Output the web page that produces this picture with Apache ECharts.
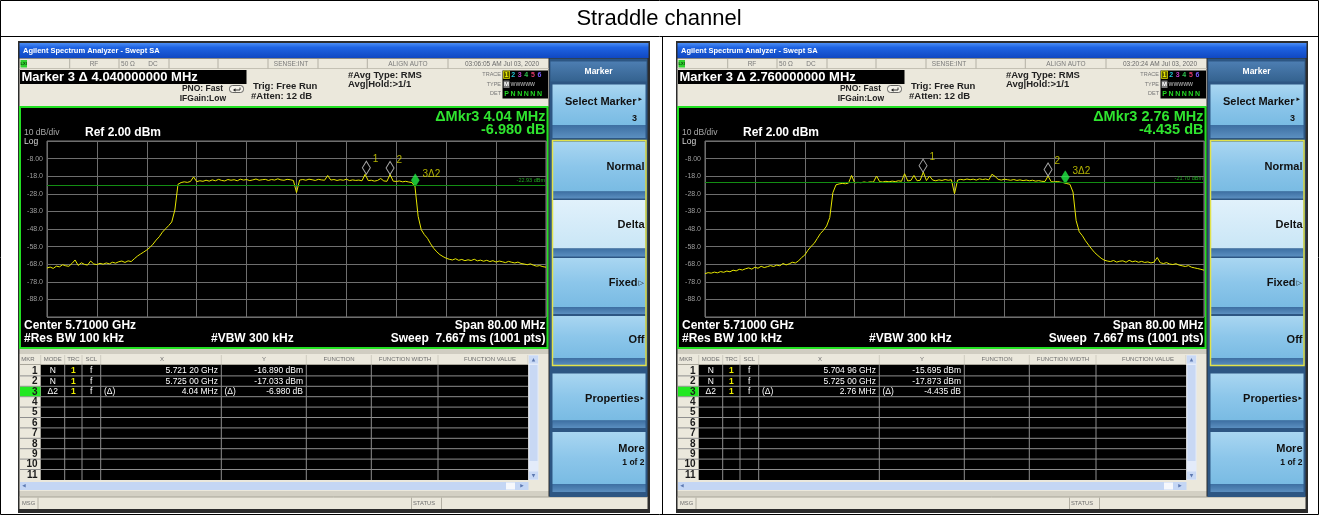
<!DOCTYPE html>
<html>
<head>
<meta charset="utf-8">
<title>Straddle channel</title>
<script src="https://cdn.jsdelivr.net/npm/echarts@6/dist/echarts.min.js"></script>
<style>
  html, body { margin: 0; padding: 0; background: #ffffff; }
  #chart { width: 1319px; height: 515px; }
</style>
</head>
<body>
<div id="chart"></div>
<script>
// ---- Sweep settings shared by both captures ----
const centerGHz = 5.71;
const spanMHz = 80;
const sweepStepMHz = 0.5;
const refLevelDbm = 2;
const yTickLabels = ['-8.00', '-18.0', '-28.0', '-38.0', '-48.0', '-58.0', '-68.0', '-78.0', '-88.0'];
const traceNames = ['1', '2', '3', '4', '5', '6'];

// ---- Capture A: trace 1 (dBm), one value every 0.5 MHz from the start frequency ----
const traceA = [
  -70.2, -69.6, -70.4, -69.1, -69.5, -68.3, -68.9, -69.2, -67.6, -65.6,
  -68.7, -67.2, -68.1, -68.5, -66.2, -67.9, -68.2, -67.5, -68.0, -67.3,
  -67.8, -66.9, -67.4, -66.6, -66.2, -67.0, -66.1, -66.5, -64.9, -63.4,
  -62.2, -61.1, -59.9, -58.5, -56.6, -54.3, -52.4, -49.8, -47.9, -46.1,
  -44.0, -37.2, -22.6, -21.6, -21.2, -21.5, -21.0, -18.4, -21.1, -20.6,
  -20.9, -20.3, -20.8, -20.1, -20.6, -19.8, -20.4, -20.7, -19.9, -20.3,
  -20.0, -20.6, -19.7, -20.2, -19.9, -20.5, -20.1, -19.6, -20.3, -20.0,
  -19.8, -20.4, -19.9, -20.2, -19.5, -20.1, -20.3, -19.8, -20.0, -20.4,
  -27.3, -20.2, -19.9, -20.3, -19.7, -20.0, -20.4, -19.8, -20.1, -20.3,
  -17.6, -20.2, -19.9, -20.4, -20.0, -20.3, -19.7, -20.5, -20.1, -20.4,
  -20.2, -20.6, -16.9, -20.5, -20.3, -20.8, -20.4, -19.3, -20.7, -20.9,
  -17.0, -20.8, -21.0, -20.7, -21.2, -20.9, -21.3, -21.6, -24.0, -40.8,
  -48.4, -51.2, -53.3, -56.4, -59.0, -61.0, -62.6, -63.7, -64.6, -65.2,
  -65.6, -64.9, -65.8, -65.3, -66.0, -65.5, -65.9, -65.2, -66.1, -65.7,
  -66.3, -65.8, -66.5, -66.0, -66.8, -66.2, -66.6, -67.1, -66.4, -66.9,
  -67.3, -66.8, -67.6, -67.9, -68.3, -67.8, -68.6, -69.1, -68.8, -69.4,
  -69.7
];
const markerFreqA = [5.72120, 5.72500];
const markerLevelA = [-16.890, -17.033];
const deltaMhzA = 4.04;
const deltaDbA = -6.980;
const displayLineA = -22.93;
const clockA = '03:06:05 AM Jul 03, 2020';

// ---- Capture B ----
const traceB = [
  -73.4, -72.8, -73.1, -72.5, -72.9, -72.2, -72.6, -71.9, -72.3, -71.4,
  -71.8, -70.9, -71.3, -70.6, -70.1, -70.8, -69.7, -70.3, -69.2, -69.9,
  -69.4, -68.8, -69.3, -68.5, -68.9, -67.6, -68.4, -67.8, -66.9, -67.3,
  -66.1, -64.2, -62.8, -60.1, -57.9, -56.2, -53.4, -50.6, -48.7, -46.3,
  -41.5, -27.4, -22.9, -22.4, -22.1, -22.3, -21.9, -17.6, -21.8, -21.5,
  -21.7, -21.3, -21.6, -21.2, -21.4, -17.9, -21.1, -21.3, -20.9, -21.2,
  -20.8, -21.1, -20.6, -20.9, -16.6, -20.7, -20.4, -17.6, -20.6, -20.3,
  -15.7, -20.5, -17.9, -20.2, -20.6, -20.1, -20.4, -19.9, -20.3, -20.0,
  -27.9, -20.2, -19.8, -20.1, -19.6, -20.0, -19.7, -20.2, -19.5, -19.9,
  -19.6, -20.1, -16.9, -18.1, -19.8, -20.2, -19.7, -20.0, -20.3, -19.9,
  -20.4, -20.1, -20.5, -20.2, -20.6, -20.3, -20.8, -20.5, -20.9, -21.0,
  -17.9, -21.1, -21.3, -21.0, -21.4, -21.7, -22.2, -22.6, -27.0, -43.2,
  -49.6, -51.8, -54.7, -57.1, -59.4, -61.5, -63.1, -64.6, -65.7, -66.2,
  -66.5, -65.9, -66.8, -66.3, -66.1, -66.9, -65.8, -66.6, -66.2, -66.9,
  -66.4, -67.0, -66.7, -67.3, -66.8, -64.2, -67.2, -67.6, -67.1, -67.9,
  -68.2, -67.7, -68.5, -68.9, -69.3, -68.8, -69.7, -70.1, -70.5, -70.9,
  -71.4
];
const markerFreqB = [5.70496, 5.72500];
const markerLevelB = [-15.695, -17.873];
const deltaMhzB = 2.76;
const deltaDbB = -4.435;
const displayLineB = -21.70;
const clockB = '03:20:24 AM Jul 03, 2020';

const capA = { trace: traceA, markerFreq: markerFreqA, markerLevel: markerLevelA, deltaMhz: deltaMhzA, deltaDb: deltaDbA, displayLine: displayLineA, clock: clockA };
const capB = { trace: traceB, markerFreq: markerFreqB, markerLevel: markerLevelB, deltaMhz: deltaMhzB, deltaDb: deltaDbB, displayLine: displayLineB, clock: clockB };

// ---- Drawing helpers for the instrument window chrome ----
const FONT = '"Liberation Sans", Arial, Helvetica, sans-serif';
const G = [];
function rect(x, y, w, h, fill, extra) {
  G.push(Object.assign({ type: 'rect', z: -10, silent: true, shape: { x: x, y: y, width: w, height: h }, style: { fill: fill } }, extra || {}));
}
function frame(x, y, w, h, stroke, lw, fill) {
  G.push({ type: 'rect', z: -10, silent: true, shape: { x: x, y: y, width: w, height: h }, style: { fill: fill || 'none', stroke: stroke, lineWidth: lw || 1 } });
}
function line(x1, y1, x2, y2, stroke, lw) {
  G.push({ type: 'line', z: -10, silent: true, shape: { x1: x1, y1: y1, x2: x2, y2: y2 }, style: { stroke: stroke, lineWidth: lw || 1 } });
}
function text(x, y, t, size, fill, o) {
  o = o || {};
  G.push({ type: 'text', z: -9, silent: true, x: x, y: y,
    style: { text: t, fill: fill, fontSize: size, fontFamily: o.family || FONT, fontWeight: o.bold ? 'bold' : 'normal',
      align: o.align || 'left', verticalAlign: 'middle' } });
}
function vgrad(stops) {
  return { type: 'linear', x: 0, y: 0, x2: 0, y2: 1, colorStops: stops.map(function (c) { return { offset: c[0], color: c[1] }; }) };
}
function fmtGHz(f) { const s = f.toFixed(5); return s.slice(0, 5) + ' ' + s.slice(5) + ' GHz'; }

const BEIGE = '#ebe8dc';

function panel(ox, cap) {
  const X = function (v) { return ox + v; };
  // window frame
  rect(X(18), 41, 632, 472, '#2c2c2c');
  // title bar
  rect(X(19.5), 43, 629, 15, vgrad([[0, '#4c8ef4'], [0.3, '#1f63e2'], [1, '#1048c2']]));
  text(X(23), 50.5, 'Agilent Spectrum Analyzer - Swept SA', 7.5, '#ffffff', { bold: true });

  // status + settings area
  rect(X(19.5), 58.5, 529, 48, BEIGE);
  line(X(19.5), 68.5, X(548.5), 68.5, '#c4c1b4');
  [69.7, 119, 169, 218, 268, 318, 367.3, 448].forEach(function (sx) { line(X(sx), 59, X(sx), 68.5, '#b3b0a4'); });
  rect(X(20.5), 60, 6.5, 7.5, '#2ed12e');
  text(X(23.7), 63.8, 'LXI', 4, '#0b3a0b', { align: 'center', bold: true });
  text(X(94), 64, 'RF', 6.5, '#7a7a7a', { align: 'center' });
  text(X(128), 64, '50 Ω', 6.5, '#7a7a7a', { align: 'center' });
  text(X(153), 64, 'DC', 6.5, '#7a7a7a', { align: 'center' });
  text(X(291), 64, 'SENSE:INT', 6.5, '#7a7a7a', { align: 'center' });
  text(X(408), 64, 'ALIGN AUTO', 6.5, '#7a7a7a', { align: 'center' });
  text(X(539), 64, cap.clock, 6.5, '#6a6a6a', { align: 'right' });

  rect(X(20), 70, 226.5, 14, '#000000');
  text(X(21.5), 77.5, 'Marker 3 Δ ' + cap.deltaMhz.toFixed(9) + ' MHz', 13, '#ffffff', { bold: true });
  text(X(223), 89, 'PNO: Fast', 8.5, '#222222', { bold: true, align: 'right' });
  text(X(226), 98.5, 'IFGain:Low', 8.5, '#222222', { bold: true, align: 'right' });
  G.push({ type: 'rect', z: -10, silent: true, shape: { x: X(229.5), y: 85.5, width: 14, height: 7, r: 3 }, style: { fill: '#f4f2ea', stroke: '#444444', lineWidth: 0.8 } });
  G.push({ type: 'polyline', z: -9, silent: true, shape: { points: [[X(240), 87.5], [X(240), 90], [X(234), 90]] }, style: { fill: 'none', stroke: '#222222', lineWidth: 0.9 } });
  G.push({ type: 'polygon', z: -9, silent: true, shape: { points: [[X(233), 90], [X(235.5), 88.3], [X(235.5), 91.7]] }, style: { fill: '#222222' } });
  text(X(253), 86, 'Trig: Free Run', 9.5, '#222222', { bold: true });
  text(X(251), 96, '#Atten: 12 dB', 9.5, '#222222', { bold: true });
  text(X(348), 75, '#Avg Type: RMS', 9.5, '#222222', { bold: true });
  text(X(348), 84.5, 'Avg|Hold:>1/1', 9.5, '#222222', { bold: true });
  text(X(501), 74.5, 'TRACE', 5.5, '#777777', { align: 'right' });
  text(X(501), 84, 'TYPE', 5.5, '#777777', { align: 'right' });
  text(X(501), 93.5, 'DET', 5.5, '#777777', { align: 'right' });
  rect(X(502.5), 70.5, 45.5, 28, '#000000');
  frame(X(503.5), 71, 6, 7.5, '#d8d800', 0.8, '#5a5a00');
  const traceColors = ['#f0f000', '#22c5d5', '#c43fcc', '#2fc24f', '#e23a6a', '#7a5cff'];
  traceNames.forEach(function (n, k) { text(X(506.5 + 6.6 * k), 74.9, n, 7, traceColors[k], { bold: true, align: 'center' }); });
  rect(X(503.5), 80.5, 6, 7.5, '#7a7a7a');
  text(X(506.5), 84.4, 'M', 6, '#ffffff', { bold: true, align: 'center' });
  text(X(510.5), 84.4, 'WWWWW', 5.2, '#9a9a9a', { bold: true });
  text(X(506.5), 93.8, 'P', 7, '#22d822', { bold: true, align: 'center' });
  ['N', 'N', 'N', 'N', 'N'].forEach(function (n, k) { text(X(513.1 + 6.6 * k), 93.8, n, 7, '#22d822', { bold: true, align: 'center' }); });

  // graticule window
  frame(X(20), 107, 527.5, 241, '#22e022', 2, '#000000');
  text(X(24), 133, '10 dB/div', 8.5, '#a8a8a8');
  text(X(24), 141.5, 'Log', 8.5, '#d6d6d6');
  text(X(85), 133, 'Ref ' + refLevelDbm.toFixed(2) + ' dBm', 12, '#ffffff', { bold: true });
  text(X(545.5), 117, 'ΔMkr3 ' + cap.deltaMhz.toFixed(2) + ' MHz', 14.5, '#2fe42f', { bold: true, align: 'right' });
  text(X(545.5), 129.5, cap.deltaDb.toFixed(3) + ' dB', 14.5, '#2fe42f', { bold: true, align: 'right' });
  text(X(24), 325.5, 'Center ' + centerGHz.toFixed(5) + ' GHz', 12, '#ffffff', { bold: true });
  text(X(24), 338.5, '#Res BW 100 kHz', 12, '#ffffff', { bold: true });
  text(X(211), 338.5, '#VBW 300 kHz', 12, '#ffffff', { bold: true });
  text(X(545.5), 325.5, 'Span ' + spanMHz.toFixed(2) + ' MHz', 12, '#ffffff', { bold: true, align: 'right' });
  text(X(545.5), 338.5, 'Sweep  7.667 ms (1001 pts)', 12, '#ffffff', { bold: true, align: 'right' });

  // marker table
  rect(X(19.5), 349, 529, 5, '#d0cdc1');
  rect(X(19.5), 354, 529, 137, BEIGE);
  const hdr = [['MKR', 28], ['MODE', 52.7], ['TRC', 73.3], ['SCL', 91.3], ['X', 162], ['Y', 264], ['FUNCTION', 339], ['FUNCTION WIDTH', 405], ['FUNCTION VALUE', 490]];
  hdr.forEach(function (h) { text(X(h[1]), 359.5, h[0], 6, '#6e6e6e', { align: 'center' }); });
  const cols = [40.7, 64.7, 82, 100.7, 221.3, 306.3, 371.3, 438, 528];
  cols.forEach(function (cx) { line(X(cx), 355, X(cx), 364.5, '#cfccc0'); });
  line(X(20), 364.5, X(528), 364.5, '#a9a69a');
  rect(X(40.7), 365, 487.5, 115, '#000000');
  const rowH = 10.4, row0 = 365.5;
  for (let k = 1; k <= 10; k++) { line(X(20), row0 + k * rowH, X(528), row0 + k * rowH, '#8e8e8e'); }
  cols.slice(1, 8).forEach(function (cx) { line(X(cx), 365, X(cx), 480, '#8e8e8e'); });
  rect(X(20), row0 + 2 * rowH + 0.5, 20.5, rowH - 1, '#22e822');
  for (let k = 0; k < 11; k++) { text(X(37.5), row0 + rowH * (k + 0.5) + 0.3, String(k + 1), 10, '#1a1a1a', { bold: true, align: 'right' }); }
  const rows = [
    ['N', fmtGHz(cap.markerFreq[0]), cap.markerLevel[0].toFixed(3) + ' dBm', false],
    ['N', fmtGHz(cap.markerFreq[1]), cap.markerLevel[1].toFixed(3) + ' dBm', false],
    ['Δ2', cap.deltaMhz.toFixed(2) + ' MHz', cap.deltaDb.toFixed(3) + ' dB', true]
  ];
  rows.forEach(function (r, k) {
    const cy = row0 + rowH * (k + 0.5) + 0.3;
    text(X(52.7), cy, r[0], 8.5, '#ffffff', { align: 'center' });
    text(X(73.3), cy, '1', 8.5, '#ecec00', { align: 'center', bold: true });
    text(X(91.3), cy, 'f', 8.5, '#ffffff', { align: 'center' });
    if (r[3]) { text(X(104), cy, '(Δ)', 8.5, '#ffffff'); text(X(224.5), cy, '(Δ)', 8.5, '#ffffff'); }
    text(X(218), cy, r[1], 8.5, '#ffffff', { align: 'right' });
    text(X(303), cy, r[2], 8.5, '#ffffff', { align: 'right' });
  });
  // vertical scroll bar
  rect(X(528.5), 355, 10, 125, '#e3ebfa');
  rect(X(529), 355.5, 9, 8, '#c9d9f5');
  text(X(533.5), 359.5, '▲', 4.5, '#5c78b0', { align: 'center', family: '"DejaVu Sans", sans-serif' });
  rect(X(529.5), 365, 8, 96, '#c8d8f4');
  rect(X(529), 471.5, 9, 8, '#c9d9f5');
  text(X(533.5), 475.5, '▼', 4.5, '#5c78b0', { align: 'center', family: '"DejaVu Sans", sans-serif' });
  // horizontal scroll bar
  rect(X(20), 482, 508.5, 8, '#c4d6f4');
  text(X(24), 486, '◀', 4.5, '#5c78b0', { align: 'center', family: '"DejaVu Sans", sans-serif' });
  rect(X(506), 482.5, 9, 7, '#f6f8fc');
  text(X(522), 486, '▶', 4.5, '#5c78b0', { align: 'center', family: '"DejaVu Sans", sans-serif' });
  rect(X(19.5), 491, 529, 6, '#d3d0c4');
  // message bar
  rect(X(19.5), 497, 628, 12, BEIGE);
  line(X(19.5), 497, X(647.5), 497, '#a7a498');
  [38, 411.5, 441.5].forEach(function (sx) { line(X(sx), 497.5, X(sx), 509, '#b3b0a4'); });
  text(X(22), 503, 'MSG', 5.8, '#6e6e6e');
  text(X(413), 503, 'STATUS', 5.8, '#6e6e6e');

  // softkey column
  rect(X(549.5), 58.5, 98, 438.5, '#2d5683');
  rect(X(550.5), 61.5, 96, 20, vgrad([[0, '#4d7eb2'], [1, '#34628f']]));
  text(X(598.5), 71.5, 'Marker', 8.5, '#ffffff', { bold: true, align: 'center' });
  const keys = [
    { y: 84.5, light: 40.5, band: 13, lines: [['Select Marker', 636.5, 101.5, 11], ['3', 637, 118.5, 9]], arrow: ['▸', 638.5, 99.5] },
    { y: 141.5, light: 50, band: 7, lines: [['Normal', 644.5, 166.5, 11]] },
    { y: 200, light: 48.5, band: 8, lines: [['Delta', 644.5, 225, 11]], sel: true },
    { y: 258, light: 49, band: 7, lines: [['Fixed', 637.5, 283, 11]], arrow: ['▷', 638.5, 283.5] },
    { y: 316, light: 42, band: 8, lines: [['Off', 644.5, 340, 11]] },
    { y: 373.5, light: 47, band: 7.5, lines: [['Properties', 639.5, 398.5, 11]], arrow: ['▸', 640.5, 398.5] },
    { y: 432, light: 52, band: 8, lines: [['More', 644.5, 448.5, 11], ['1 of 2', 644.5, 463, 8.5]] }
  ];
  keys.forEach(function (k) {
    const top = k.sel ? [[0, '#e1f1fb'], [1, '#c9e6f6']] : [[0, '#a9d6f1'], [0.5, '#8cc6ea'], [1, '#79bbe3']];
    rect(X(552.5), k.y, 93, k.light, vgrad(top));
    rect(X(552.5), k.y + k.light, 93, k.band, vgrad([[0, '#3d6fa2'], [1, '#5b8fc0']]));
    k.lines.forEach(function (l) { text(X(l[1]), l[2], l[0], l[3], '#111111', { bold: true, align: 'right' }); });
    if (k.arrow) { text(X(k.arrow[1]), k.arrow[2], k.arrow[0], 7, '#111111', { family: '"DejaVu Sans", sans-serif' }); }
  });
  frame(X(552.5), 140.5, 93.5, 225, '#e2e24a', 1.5);
}

// ---- Page framing: two-cell table with a heading row ----
G.push({ type: 'rect', z: -12, silent: true, shape: { x: 0, y: 0, width: 1319, height: 515 }, style: { fill: '#ffffff' } });
panel(0, capA);
panel(658, capB);
frame(0.5, 0.5, 1318, 514, '#000000', 1);
line(0.5, 36.5, 1318.5, 36.5, '#000000');
line(662.5, 36.5, 662.5, 514.5, '#000000');
text(659, 19, 'Straddle channel', 22, '#000000', { align: 'center' });

// ---- Graticule and traces ----
const startGHz = centerGHz - spanMHz / 2000;
function toX(f) { return (f - startGHz) * 1000; }
const plotLeft = [47, 705];

function gridFor(p) {
  return { left: plotLeft[p], top: 141, width: 499, height: 176, show: true, borderColor: '#7a7a7a', borderWidth: 1, backgroundColor: 'rgba(0,0,0,0)' };
}
function xAxisFor(p) {
  return { type: 'value', gridIndex: p, min: 0, max: spanMHz, interval: spanMHz / 10,
    axisLine: { show: false }, axisTick: { show: false }, axisLabel: { show: false },
    splitLine: { show: true, lineStyle: { color: '#6e6e6e', width: 1 } } };
}
// dBm scale used by the traces (not drawn)
function yDataFor(p) {
  return { type: 'value', gridIndex: p, position: 'left', min: refLevelDbm - 100, max: refLevelDbm, show: false };
}
// graticule divisions with the dBm labels of each division line
function yDivFor(p) {
  return { type: 'value', gridIndex: p, position: 'left', offset: 0, min: 0, max: 10, interval: 1,
    axisLine: { show: false }, axisTick: { show: false },
    axisLabel: { show: true, margin: 4, fontSize: 7, color: '#9e9e9e', fontFamily: FONT,
      formatter: function (v) { const k = Math.round(v); return (k >= 1 && k <= 9) ? yTickLabels[9 - k] : ''; } },
    splitLine: { show: true, lineStyle: { color: '#6e6e6e', width: 1 } } };
}
function seriesFor(p, cap) {
  const pts = cap.trace.map(function (v, i) { return [i * sweepStepMHz, v]; });
  const m3f = cap.markerFreq[1] + cap.deltaMhz / 1000;
  const m3v = cap.markerLevel[1] + cap.deltaDb;
  function lbl(t, off) {
    return { show: true, formatter: t, position: 'right', distance: 2, offset: off, color: '#dcdc00', fontSize: 10, fontFamily: FONT };
  }
  const hollow = { color: 'rgba(0,0,0,0)', borderColor: '#cfcfcf', borderWidth: 1 };
  return [
    { type: 'line', xAxisIndex: p, yAxisIndex: 2 * p, data: pts, showSymbol: false, symbol: 'none', silent: true, z: 3,
      lineStyle: { color: '#e8e800', width: 1 },
      markLine: { silent: true, symbol: 'none', lineStyle: { color: '#138d13', width: 1, type: 'solid' },
        label: { show: true, position: 'insideEndTop', distance: 1, formatter: cap.displayLine.toFixed(2) + ' dBm', color: '#22a822', fontSize: 5.5, fontFamily: FONT },
        data: [{ yAxis: cap.displayLine }] } },
    { type: 'scatter', xAxisIndex: p, yAxisIndex: 2 * p, z: 4, silent: true, symbol: 'diamond', symbolSize: [8, 13], symbolOffset: [0, '-50%'],
      data: [
        { value: [toX(cap.markerFreq[0]), cap.markerLevel[0]], itemStyle: hollow, label: lbl('1', [0, -8]) },
        { value: [toX(cap.markerFreq[1]), cap.markerLevel[1]], itemStyle: hollow, label: lbl('2', [0, -8]) },
        { value: [toX(m3f), m3v], itemStyle: { color: '#22ee44', borderColor: '#22ee44', borderWidth: 0.5 }, label: lbl('3Δ2', [1, -6]) }
      ] }
  ];
}

const chart = echarts.init(document.getElementById('chart'), null, { renderer: 'canvas' });
chart.setOption({
  animation: false,
  backgroundColor: '#ffffff',
  graphic: { elements: G },
  grid: [gridFor(0), gridFor(1)],
  xAxis: [xAxisFor(0), xAxisFor(1)],
  yAxis: [yDataFor(0), yDivFor(0), yDataFor(1), yDivFor(1)],
  series: seriesFor(0, capA).concat(seriesFor(1, capB))
});
</script>
</body>
</html>
